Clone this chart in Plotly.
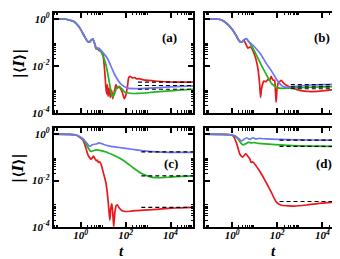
import numpy as np
import plotly.graph_objects as go

# ---- data (log10 t, log10 |<I>|) ----
A_BLUE_LT = [-1.2, -0.8, -0.55, -0.3, -0.1, 0.0, 0.2, 0.3, 0.38, 0.46, 0.54, 0.62, 0.7, 0.8, 0.95, 1.2, 1.5, 1.79, 2.09, 2.6, 3.3, 4.0, 5.0]
A_BLUE_LY = [0, -0.01, -0.04, -0.12, -0.31, -0.45, -0.8, -0.95, -1.0, -0.92, -0.85, -1.05, -1.25, -1.25, -1.4, -1.7, -2.35, -2.78, -2.95, -2.97, -2.94, -2.9, -2.86]
A_GREEN_LT = [-1.2, -0.8, -0.55, -0.3, -0.1, 0.0, 0.2, 0.3, 0.38, 0.46, 0.54, 0.62, 0.7, 0.8, 0.9, 1.0, 1.13, 1.28, 1.36, 1.42, 1.5, 1.6, 1.72, 1.85, 1.97, 2.2, 2.5, 3.0, 3.5, 4.0, 4.5, 5.0]
A_GREEN_LY = [0, -0.01, -0.04, -0.12, -0.31, -0.45, -0.8, -0.95, -1.0, -0.92, -0.85, -1.05, -1.27, -1.3, -1.4, -1.6, -1.97, -2.73, -3.15, -3.32, -3.2, -2.95, -2.88, -3.0, -3.13, -3.17, -3.18, -3.15, -3.1, -3.07, -3.03, -3.0]
A_RED_LT = [-1.2, -0.8, -0.55, -0.3, -0.1, 0.0, 0.2, 0.3, 0.38, 0.46, 0.54, 0.62, 0.68, 0.75, 0.82, 0.9, 0.98, 1.06, 1.12, 1.16, 1.19, 1.22, 1.27, 1.32, 1.38, 1.43, 1.5, 1.57, 1.63, 1.7, 1.79, 1.86, 1.94, 2.0, 2.08, 2.14, 2.2, 2.3, 2.4, 2.5, 2.6, 2.8, 3.0, 3.3, 3.6, 4.0, 4.5, 5.0]
A_RED_LY = [0, -0.01, -0.04, -0.12, -0.31, -0.45, -0.8, -0.95, -1.0, -0.92, -0.85, -1.05, -1.28, -1.26, -1.36, -1.35, -1.45, -2.1, -2.9, -3.2, -2.8, -3.3, -2.95, -3.35, -3.05, -3.4, -3.1, -2.8, -2.95, -2.9, -3.0, -3.15, -3.4, -3.3, -2.9, -2.5, -2.45, -2.52, -2.5, -2.56, -2.55, -2.6, -2.62, -2.65, -2.67, -2.69, -2.7, -2.7]
A_DASH = [-2.70, -2.84, -3.0]
A_DASH_START = 2.55

B_BLUE_LT = [-1.2, -0.6, -0.4, -0.18, 0.0, 0.19, 0.3, 0.41, 0.52, 0.63, 0.72, 0.8, 1.0, 1.29, 1.51, 1.73, 1.95, 2.1, 2.25, 2.47, 2.8, 3.5, 4.2, 5.0]
B_BLUE_LY = [0, -0.02, -0.08, -0.25, -0.45, -0.73, -0.92, -1.0, -0.9, -0.84, -0.95, -1.02, -1.2, -1.54, -1.9, -2.2, -2.55, -2.75, -2.88, -2.92, -2.88, -2.82, -2.8, -2.78]
B_GREEN_LT = [-1.2, -0.6, -0.4, -0.18, 0.0, 0.19, 0.3, 0.41, 0.52, 0.63, 0.72, 0.85, 1.0, 1.15, 1.3, 1.44, 1.6, 1.73, 1.85, 1.95, 2.2, 2.5, 3.0, 4.0, 5.0]
B_GREEN_LY = [0, -0.02, -0.08, -0.25, -0.45, -0.73, -0.92, -1.0, -0.9, -0.84, -0.95, -1.14, -1.4, -1.69, -1.98, -2.24, -2.52, -2.73, -2.85, -2.92, -2.96, -2.95, -2.93, -2.9, -2.88]
B_RED_LT = [-1.2, -0.6, -0.4, -0.18, 0.0, 0.19, 0.3, 0.41, 0.52, 0.6, 0.7, 0.8, 0.92, 1.05, 1.15, 1.22, 1.26, 1.3, 1.36, 1.41, 1.5, 1.59, 1.66, 1.73, 1.8, 1.88, 1.92, 1.95, 1.99, 2.05, 2.1, 2.18, 2.25, 2.35, 2.47, 2.7, 2.92, 3.2, 3.5, 3.9, 4.24, 4.6, 5.0]
B_RED_LY = [0, -0.02, -0.08, -0.25, -0.45, -0.73, -0.92, -1.0, -0.92, -1.05, -1.25, -1.2, -1.35, -1.7, -2.16, -2.8, -3.35, -3.0, -2.75, -2.65, -2.68, -2.58, -2.62, -2.45, -2.6, -2.62, -3.1, -3.55, -3.0, -2.72, -2.68, -2.62, -2.7, -2.8, -2.86, -2.95, -3.03, -3.08, -3.1, -3.08, -3.05, -3.0, -2.98]
B_DASH = [-2.8, -2.9, -2.98]
B_DASH_START = 2.6

C_BLUE_LT = [-1.2, -0.5, -0.2, 0.1, 0.3, 0.39, 0.46, 0.54, 0.7, 0.8, 0.91, 1.06, 1.3, 1.72, 2.1, 2.46, 2.8, 3.2, 3.6, 4.2, 5.0]
C_BLUE_LY = [0, -0.01, -0.04, -0.2, -0.42, -0.52, -0.5, -0.45, -0.43, -0.38, -0.4, -0.46, -0.52, -0.58, -0.63, -0.68, -0.72, -0.76, -0.78, -0.79, -0.79]
C_GREEN_LT = [-1.2, -0.5, -0.2, 0.1, 0.25, 0.39, 0.46, 0.55, 0.69, 0.85, 1.13, 1.4, 1.72, 2.0, 2.31, 2.55, 2.76, 3.0, 3.2, 3.5, 4.0, 4.5, 5.0]
C_GREEN_LY = [0, -0.01, -0.04, -0.22, -0.45, -0.68, -0.75, -0.72, -0.68, -0.7, -0.77, -0.88, -1.03, -1.2, -1.43, -1.6, -1.72, -1.81, -1.86, -1.88, -1.85, -1.82, -1.8]
C_RED_LT = [-1.2, -0.5, -0.2, 0.1, 0.2, 0.32, 0.46, 0.52, 0.57, 0.63, 0.69, 0.74, 0.79, 0.85, 0.91, 0.98, 1.06, 1.13, 1.2, 1.26, 1.3, 1.34, 1.39, 1.43, 1.47, 1.52, 1.58, 1.64, 1.72, 1.85, 2.01, 2.2, 2.46, 2.8, 3.2, 3.6, 4.2, 5.0]
C_RED_LY = [0, -0.01, -0.04, -0.25, -0.5, -0.88, -1.08, -1.02, -0.95, -1.05, -1.15, -1.12, -1.22, -1.2, -1.3, -1.55, -1.85, -2.12, -2.67, -3.3, -3.7, -3.2, -3.0, -3.4, -3.98, -3.4, -3.08, -3.05, -3.18, -3.3, -3.33, -3.32, -3.29, -3.27, -3.25, -3.22, -3.18, -3.15]
C_DASH = [-0.77, -1.8, -3.15]
C_DASH_START = 2.7

D_BLUE_LT = [-1.2, -0.5, -0.1, 0.13, 0.3, 0.42, 0.53, 0.65, 0.72, 0.8, 0.87, 0.94, 1.01, 1.08, 1.2, 1.5, 2.0, 3.0, 4.0, 5.0]
D_BLUE_LY = [0, -0.01, -0.02, -0.07, -0.2, -0.3, -0.22, -0.16, -0.2, -0.23, -0.18, -0.16, -0.2, -0.21, -0.19, -0.21, -0.23, -0.25, -0.26, -0.26]
D_GREEN_LT = [-1.2, -0.5, -0.1, 0.13, 0.27, 0.38, 0.49, 0.6, 0.72, 0.85, 1.0, 1.16, 1.75, 2.49, 3.5, 5.0]
D_GREEN_LY = [0, -0.01, -0.03, -0.1, -0.22, -0.38, -0.47, -0.42, -0.36, -0.38, -0.37, -0.4, -0.44, -0.49, -0.52, -0.53]
D_RED_LT = [-1.2, -0.5, -0.1, 0.05, 0.2, 0.35, 0.47, 0.6, 0.66, 0.72, 0.78, 0.84, 0.9, 0.94, 1.05, 1.16, 1.3, 1.45, 1.6, 1.75, 1.88, 1.97, 2.08, 2.19, 2.5, 2.78, 3.3, 3.96, 4.5, 5.0]
D_RED_LY = [0, -0.01, -0.03, -0.08, -0.4, -0.88, -0.99, -0.85, -0.9, -0.99, -1.05, -1.22, -1.2, -1.22, -1.35, -1.5, -1.72, -1.98, -2.25, -2.53, -2.8, -2.94, -3.02, -3.06, -3.09, -3.1, -3.05, -2.97, -2.93, -2.9]
D_DASH = [-0.26, -0.53, -2.9]
D_DASH_START = 2.1

T_END = 5.0
PANEL_LABELS = ["(a)", "(b)", "(c)", "(d)"]
X_TICKS = [1, 100, 1e4]
X_TICKTEXT = ["10<sup>0</sup>", "10<sup>2</sup>", "10<sup>4</sup>"]
Y_TICKS = [1e-4, 1e-2, 1]
Y_TICKTEXT = ["10<sup>-4</sup>", "10<sup>-2</sup>", "10<sup>0</sup>"]

RED = "#e8191c"
GREEN = "#1fb51f"
BLUE = "#6f75f5"

W, H = 340, 259
panels = [
    dict(red=(A_RED_LT, A_RED_LY), green=(A_GREEN_LT, A_GREEN_LY), blue=(A_BLUE_LT, A_BLUE_LY), dash=A_DASH, ds=A_DASH_START),
    dict(red=(B_RED_LT, B_RED_LY), green=(B_GREEN_LT, B_GREEN_LY), blue=(B_BLUE_LT, B_BLUE_LY), dash=B_DASH, ds=B_DASH_START),
    dict(red=(C_RED_LT, C_RED_LY), green=(C_GREEN_LT, C_GREEN_LY), blue=(C_BLUE_LT, C_BLUE_LY), dash=C_DASH, ds=C_DASH_START),
    dict(red=(D_RED_LT, D_RED_LY), green=(D_GREEN_LT, D_GREEN_LY), blue=(D_BLUE_LT, D_BLUE_LY), dash=D_DASH, ds=D_DASH_START),
]

# pixel boxes (left, right, top, bottom)
boxes = [(45.7, 185, 3, 106), (197, 337, 3, 106), (45.7, 185, 122, 224), (197, 337, 122, 224)]

fig = go.Figure()
xminor = [m * 10.0 ** k for k in (-2, 0, 2, 4) for m in range(2, 10)]
yminor = [m * 10.0 ** k for k in (-4, -2) for m in range(2, 10)]
font_fam = "Liberation Serif"

for i, p in enumerate(panels):
    xa = "x" if i == 0 else f"x{i+1}"
    ya = "y" if i == 0 else f"y{i+1}"
    for key, col in (("red", RED), ("green", GREEN), ("blue", BLUE)):
        lt, ly = p[key]
        fig.add_trace(go.Scatter(x=np.power(10.0, lt), y=np.power(10.0, ly), mode="lines",
                                 line=dict(color=col, width=1.7, shape="spline", smoothing=0.5),
                                 xaxis=xa, yaxis=ya, showlegend=False, hoverinfo="skip"))
    for d in p["dash"]:
        fig.add_trace(go.Scatter(x=[10.0 ** p["ds"], 10.0 ** T_END], y=[10.0 ** d, 10.0 ** d], mode="lines",
                                 line=dict(color="black", width=1.2, dash="4px,3px"),
                                 xaxis=xa, yaxis=ya, showlegend=False, hoverinfo="skip"))
    l, r, t, b = boxes[i]
    bottom_row = i >= 2
    left_col = i % 2 == 0
    xkey = "xaxis" if i == 0 else f"xaxis{i+1}"
    ykey = "yaxis" if i == 0 else f"yaxis{i+1}"
    fig.update_layout({
        xkey: dict(type="log", range=[-1.2, 5.0], domain=[l / W, r / W], anchor=ya,
                   tickvals=X_TICKS, ticktext=X_TICKTEXT, showticklabels=bottom_row,
                   ticks="inside", ticklen=5, tickwidth=1.5, tickcolor="black", ticklabelstandoff=-3,
                   showline=True, linewidth=2, linecolor="black", mirror="ticks",
                   showgrid=False, zeroline=False,
                   minor=dict(tickvals=xminor, ticks="inside", ticklen=2.5, tickwidth=1, tickcolor="black", showgrid=False),
                   tickfont=dict(family=font_fam, size=11, color="black", weight="bold", style="italic")),
        ykey: dict(type="log", range=[-4.0, 0.25], domain=[1 - b / H, 1 - t / H], anchor=xa,
                   tickvals=Y_TICKS, ticktext=Y_TICKTEXT, showticklabels=left_col,
                   ticks="inside", ticklen=5, tickwidth=1.5, tickcolor="black",
                   showline=True, linewidth=2, linecolor="black", mirror="ticks",
                   showgrid=False, zeroline=False,
                   minor=dict(tickvals=yminor, ticks="inside", ticklen=2.5, tickwidth=1, tickcolor="black", showgrid=False),
                   tickfont=dict(family=font_fam, size=11, color="black", weight="bold", style="italic")),
    })

annotations = []
label_pos = [(161, 28), (314, 28), (163, 158), (316, 158)]
for lab, (px, py) in zip(PANEL_LABELS, label_pos):
    annotations.append(dict(x=px / W, y=1 - py / H, xref="paper", yref="paper", text=f"<b>{lab}</b>",
                            showarrow=False, font=dict(family=font_fam, size=13, color="black"),
                            xanchor="center", yanchor="middle"))
for py in (55, 163):
    annotations.append(dict(x=11 / W, y=1 - py / H, xref="paper", yref="paper",
                            text="<b>|⟨<i>I</i>⟩|</b>", textangle=-90, showarrow=False,
                            font=dict(family="DejaVu Serif", size=14, color="black"),
                            xanchor="center", yanchor="middle"))
for px in (113, 265):
    annotations.append(dict(x=px / W, y=0, xref="paper", yref="paper",
                            text="<b><i>t</i></b>", showarrow=False,
                            font=dict(family=font_fam, size=15, color="black"),
                            xanchor="center", yanchor="bottom"))

fig.update_layout(width=W, height=H, margin=dict(l=0, r=0, t=0, b=0),
                  paper_bgcolor="white", plot_bgcolor="white", annotations=annotations)
fig.write_html("out.html")
